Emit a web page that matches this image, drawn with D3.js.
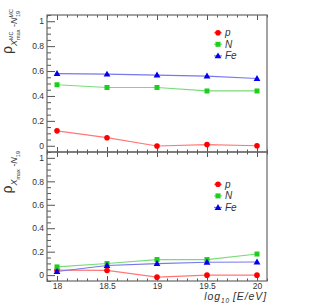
<!DOCTYPE html>
<html>
<head>
<meta charset="utf-8">
<script src="https://cdn.jsdelivr.net/npm/d3@7"></script>
<style>
  body { margin: 0; background: #fff; }
  svg { display: block; font-family: "Liberation Sans", Arial, sans-serif; }
  .tick text { fill: #333; font-size: 8.5px; }
  .domain { display: none; }
  .tick line { stroke: #555; }
</style>
</head>
<body>
<svg width="315" height="304"></svg>
<script>
// log10(E/eV) bins
const energies = [18, 18.5, 19, 19.5, 20];

// top panel: correlation of MC Xmax and MC N19
const topP = [0.12, 0.065, -0.002, 0.01, 0.0];
const topN = [0.49, 0.468, 0.468, 0.44, 0.44];
const topFe = [0.58, 0.575, 0.568, 0.56, 0.54];

// bottom panel: reconstructed Xmax and N19
const botP = [0.042, 0.04, -0.017, 0.0, 0.0];
const botN = [0.07, 0.099, 0.133, 0.133, 0.18];
const botFe = [0.031, 0.082, 0.099, 0.11, 0.112];

const xMajor = [18, 18.5, 19, 19.5, 20];
const xMinor = [17.9, 18.1, 18.2, 18.3, 18.4, 18.6, 18.7, 18.8, 18.9, 19.1, 19.2, 19.3, 19.4, 19.6, 19.7, 19.8, 19.9, 20.1];
const yMajor = [0, 0.2, 0.4, 0.6, 0.8, 1];
const yMinor = [-0.05, 0.05, 0.1, 0.15, 0.25, 0.3, 0.35, 0.45, 0.5, 0.55, 0.65, 0.7, 0.75, 0.85, 0.9, 0.95, 1.05];

const svg = d3.select("svg");

const x = d3.scaleLinear().domain([17.9, 20.1]).range([47, 267]);
const yTop = d3.scaleLinear().domain([-0.05, 1.05]).range([152, 15]);
const yBot = d3.scaleLinear().domain([-0.05, 1.05]).range([281, 152]);

const species = [
  { name: "p", shape: "circle", marker: "#ff0000", line: "#ff7777" },
  { name: "N", shape: "square", marker: "#1ccf1c", line: "#77dd77" },
  { name: "Fe", shape: "triangle", marker: "#0000ee", line: "#7777ee" }
];

function drawAxes(y, showXLabels) {
  const top = y.range()[1], bottom = y.range()[0];
  // left axis
  svg.append("g").attr("transform", "translate(47,0)")
    .call(d3.axisLeft(y).tickValues(yMajor).tickSize(-8).tickPadding(3).tickFormat(d3.format("")));
  svg.append("g").attr("transform", "translate(47,0)")
    .call(d3.axisLeft(y).tickValues(yMinor).tickSize(-4).tickFormat(""));
  // top axis
  svg.append("g").attr("transform", "translate(0," + top + ")")
    .call(d3.axisTop(x).tickValues(xMajor).tickSize(-5).tickFormat(""));
  svg.append("g").attr("transform", "translate(0," + top + ")")
    .call(d3.axisTop(x).tickValues(xMinor).tickSize(-2.5).tickFormat(""));
  // bottom axis
  svg.append("g").attr("transform", "translate(0," + bottom + ")")
    .call(d3.axisBottom(x).tickValues(xMajor).tickSize(-5).tickPadding(1.5)
      .tickFormat(showXLabels ? d3.format("") : ""));
  svg.append("g").attr("transform", "translate(0," + bottom + ")")
    .call(d3.axisBottom(x).tickValues(xMinor).tickSize(-2.5).tickFormat(""));
  // frame
  svg.append("rect")
    .attr("x", 47).attr("y", top)
    .attr("width", 220).attr("height", bottom - top)
    .attr("fill", "none").attr("stroke", "#666").attr("stroke-width", 1.2);
}

function marker(g, shape, color, cx, cy) {
  if (shape === "circle") {
    g.append("circle").attr("cx", cx).attr("cy", cy).attr("r", 2.8).attr("fill", color);
  } else if (shape === "square") {
    g.append("rect").attr("x", cx - 2.5).attr("y", cy - 2.5).attr("width", 5).attr("height", 5).attr("fill", color);
  } else {
    g.append("path").attr("d", d3.symbol(d3.symbolTriangle, 20)()).attr("transform", "translate(" + cx + "," + (cy + 0.5) + ")").attr("fill", color);
  }
}

function drawPanel(y, seriesList, legendY) {
  const line = d3.line().x((d, i) => x(energies[i])).y(d => y(d));
  seriesList.forEach((vals, k) => {
    const s = species[k];
    const g = svg.append("g");
    g.append("path").attr("d", line(vals)).attr("fill", "none")
      .attr("stroke", s.line).attr("stroke-width", 1.2);
    vals.forEach((v, i) => marker(g, s.shape, s.marker, x(energies[i]), y(v)));
    // legend
    const ly = legendY + k * 11.6;
    g.append("line").attr("x1", 214).attr("x2", 222).attr("y1", ly).attr("y2", ly)
      .attr("stroke", s.line).attr("stroke-width", 1.2);
    marker(g, s.shape, s.marker, 218, ly);
    g.append("text").attr("x", 225).attr("y", ly + 3.5).attr("font-size", 10)
      .attr("font-style", "italic").attr("fill", "#333").text(s.name);
  });
}

drawAxes(yTop, false);
drawAxes(yBot, true);
drawPanel(yTop, [topP, topN, topFe], 32.7);
drawPanel(yBot, [botP, botN, botFe], 184.3);

// y titles
const t1 = svg.append("text").attr("transform", "translate(12,9) rotate(-90)")
  .attr("text-anchor", "end").attr("fill", "#333");
t1.append("tspan").attr("font-size", 14).text("ρ");
t1.append("tspan").attr("font-size", 9).attr("font-style", "italic").attr("dy", 4.5).text("X");
t1.append("tspan").attr("font-size", 5.5).attr("dy", -4).text("MC");
t1.append("tspan").attr("font-size", 5.5).attr("dx", -8.5).attr("dy", 7).text("max");
t1.append("tspan").attr("font-size", 9).attr("dy", -3).text(" -");
t1.append("tspan").attr("font-size", 9).attr("font-style", "italic").text("N");
t1.append("tspan").attr("font-size", 5.5).attr("dy", -4).text("MC");
t1.append("tspan").attr("font-size", 5.5).attr("dx", -8).attr("dy", 7).text("19");

const t2 = svg.append("text").attr("transform", "translate(12,151) rotate(-90)")
  .attr("text-anchor", "end").attr("fill", "#333");
t2.append("tspan").attr("font-size", 14).text("ρ");
t2.append("tspan").attr("font-size", 9).attr("font-style", "italic").attr("dy", 4.5).text("X");
t2.append("tspan").attr("font-size", 5.5).attr("dy", 3).text("max");
t2.append("tspan").attr("font-size", 9).attr("dy", -3).text(" -");
t2.append("tspan").attr("font-size", 9).attr("font-style", "italic").text("N");
t2.append("tspan").attr("font-size", 5.5).attr("dy", 3).text("19");

// x title
const xt = svg.append("text").attr("x", 267).attr("y", 300)
  .attr("text-anchor", "end").attr("fill", "#333").attr("font-style", "italic")
  .attr("letter-spacing", 0.9);
xt.append("tspan").attr("font-size", 10.5).text("log");
xt.append("tspan").attr("font-size", 6.5).attr("dy", 2.5).text("10");
xt.append("tspan").attr("font-size", 10.5).attr("dx", 3).attr("dy", -2.5).text("[E/eV]");
</script>
</body>
</html>
